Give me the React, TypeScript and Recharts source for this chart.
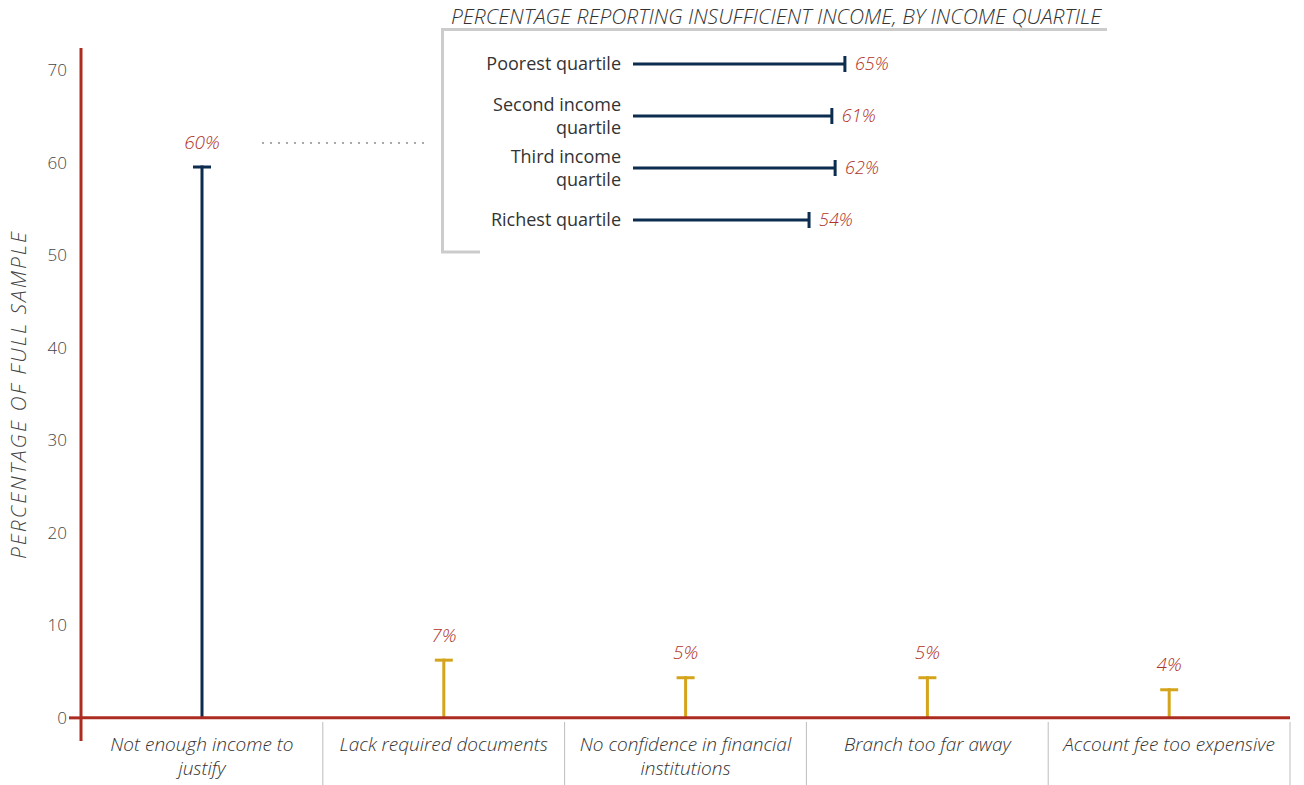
import { BarChart, Bar, XAxis, YAxis, Cell, LabelList, ReferenceLine } from 'recharts'

// main chart: reasons for not having an account
const categories = [
  'Not enough income to\njustify',
  'Lack required documents',
  'No confidence in financial\ninstitutions',
  'Branch too far away',
  'Account fee too expensive',
]
const shares = [59.7, 6.4, 4.5, 4.5, 3.2]
const shareLabels = ['60%', '7%', '5%', '5%', '4%']
const yTicks = [0, 10, 20, 30, 40, 50, 60, 70]

// inset: insufficient income by quartile
const quartiles = ['Poorest quartile', 'Second income\nquartile', 'Third income\nquartile', 'Richest quartile']
const quartileShares = [65, 61, 62, 54]
const quartileLabels = ['65%', '61%', '62%', '54%']

const NAVY = '#0c2d4f'
const GOLD = '#d4a51c'
const RED = '#ad2c21'
const LABEL_RED = '#b0342a'
const TEXT = '#333333'
const FONT = '"Open Sans", "DejaVu Sans", sans-serif'

const PLOT_LEFT = 81
const PLOT_RIGHT = 1290
const BAND = (PLOT_RIGHT - PLOT_LEFT) / categories.length

const mainData = categories.map((name, i) => ({ name, value: shares[i], label: shareLabels[i] }))
const insetData = quartiles.map((name, i) => ({ name, value: quartileShares[i], label: quartileLabels[i] }))

const Stick = (props: any) => {
  const { x, y, width, height, fill } = props
  const cx = x + width / 2
  return (
    <g>
      <rect x={cx - 1.5} y={y} width={3} height={height} fill={fill} />
      <rect x={x} y={y} width={width} height={3} fill={fill} />
    </g>
  )
}

const HStick = (props: any) => {
  const { x, y, width, height } = props
  const cy = y + height / 2
  return (
    <g>
      <rect x={x} y={cy - 1.5} width={width} height={3} fill={NAVY} />
      <rect x={x + width - 1.5} y={cy - 8} width={3} height={16} fill={NAVY} />
    </g>
  )
}

const YTick = (props: any) => {
  const { x, y, payload } = props
  return (
    <g>
      {payload.value === 0 && <line x1={x + 2} x2={x + 14} y1={y} y2={y} stroke={RED} strokeWidth={3} />}
      <text x={x} y={y} dy="0.35em" textAnchor="end" fill="#444" fontSize={17} fontWeight={300} fontFamily={FONT}>
        {payload.value}
      </text>
    </g>
  )
}

const XTick = (props: any) => {
  const { x, y, payload } = props
  const lines = String(payload.value).split('\n')
  const right = x + BAND / 2
  return (
    <g>
      <line x1={right} x2={right} y1={y - 19} y2={y + 44} stroke="#bdbdbd" strokeWidth={1} />
      {lines.map((l, i) => (
        <text
          key={i}
          x={x}
          y={y + 10 + i * 24}
          textAnchor="middle"
          fill={TEXT}
          fontSize={19}
          fontStyle="italic"
          fontWeight={300}
          fontFamily={FONT}
        >
          {l}
        </text>
      ))}
    </g>
  )
}

const QuartileTick = (props: any) => {
  const { x, y, payload } = props
  const lines = String(payload.value).split('\n')
  const start = y - ((lines.length - 1) * 23) / 2
  return (
    <g>
      {lines.map((l, i) => (
        <text key={i} x={x} y={start + i * 23} dy="0.35em" textAnchor="end" fill={TEXT} fontSize={18} fontFamily={FONT}>
          {l}
        </text>
      ))}
    </g>
  )
}

const AxisTitle = (props: any) => {
  const { viewBox } = props
  const cx = viewBox.x + 19
  const cy = viewBox.y + viewBox.height / 2
  return (
    <text
      x={cx}
      y={cy}
      transform={`rotate(-90, ${cx}, ${cy})`}
      dy="0.35em"
      textAnchor="middle"
      fill="#444"
      fontSize={21}
      letterSpacing={2}
      fontStyle="italic"
      fontWeight={300}
      fontFamily={FONT}
    >
      PERCENTAGE OF FULL SAMPLE
    </text>
  )
}

const ValueLabel = (props: any) => {
  const { x, y, width, value } = props
  return (
    <text x={x + width / 2} y={y - 17} textAnchor="middle" fill={LABEL_RED} fontSize={19} fontStyle="italic" fontWeight={300} fontFamily={FONT}>
      {value}
    </text>
  )
}

const InsetLabel = (props: any) => {
  const { x, y, width, height, value } = props
  return (
    <text x={x + width + 10} y={y + height / 2} dy="0.35em" fill={LABEL_RED} fontSize={18} fontStyle="italic" fontWeight={300} fontFamily={FONT}>
      {value}
    </text>
  )
}

export default function App() {
  return (
    <div style={{ position: 'absolute', left: 0, top: 0, width: 1304, height: 785, background: '#fff', fontFamily: FONT }}>
      <BarChart width={1304} height={785} data={mainData} margin={{ top: 48, right: 14, bottom: 0, left: 0 }}>
        <XAxis dataKey="name" axisLine={false} tickLine={false} tickSize={0} tickMargin={0} height={44} interval={0} tick={<XTick />} />
        <YAxis
          type="number"
          domain={[-2.5, 72.4]}
          ticks={yTicks}
          width={81}
          tickSize={12}
          tickMargin={2}
          tickLine={false}
          axisLine={{ stroke: RED, strokeWidth: 3 }}
          tick={<YTick />}
          label={<AxisTitle />}
        />
        <ReferenceLine y={0} stroke={RED} strokeWidth={3} />
        <Bar dataKey="value" barSize={18} shape={<Stick />} isAnimationActive={false}>
          {mainData.map((_, i) => (
            <Cell key={i} fill={i === 0 ? NAVY : GOLD} />
          ))}
          <LabelList dataKey="label" content={<ValueLabel />} />
        </Bar>
      </BarChart>

      <svg width={1304} height={785} style={{ position: 'absolute', left: 0, top: 0, pointerEvents: 'none' }}>
        <text x={451} y={24} fill="#333" fontSize={21} fontStyle="italic" fontWeight={300} fontFamily={FONT}>
          PERCENTAGE REPORTING INSUFFICIENT INCOME, BY INCOME QUARTILE
        </text>
        <polyline points="1107,29.5 442.5,29.5 442.5,252 480,252" fill="none" stroke="#cccccc" strokeWidth={3} />
        <line x1={262} x2={430} y1={143} y2={143} stroke="#aaaaaa" strokeWidth={2} strokeDasharray="2 6" />
      </svg>

      <div style={{ position: 'absolute', left: 441, top: 38 }}>
        <BarChart width={518} height={208} layout="vertical" data={insetData} margin={{ top: 0, right: 0, bottom: 0, left: 0 }}>
          <XAxis type="number" domain={[0, 100]} hide />
          <YAxis
            type="category"
            dataKey="name"
            width={192}
            axisLine={false}
            tickLine={false}
            tickSize={0}
            tickMargin={12}
            interval={0}
            tick={<QuartileTick />}
          />
          <Bar dataKey="value" barSize={16} shape={<HStick />} isAnimationActive={false}>
            <LabelList dataKey="label" content={<InsetLabel />} />
          </Bar>
        </BarChart>
      </div>
    </div>
  )
}
